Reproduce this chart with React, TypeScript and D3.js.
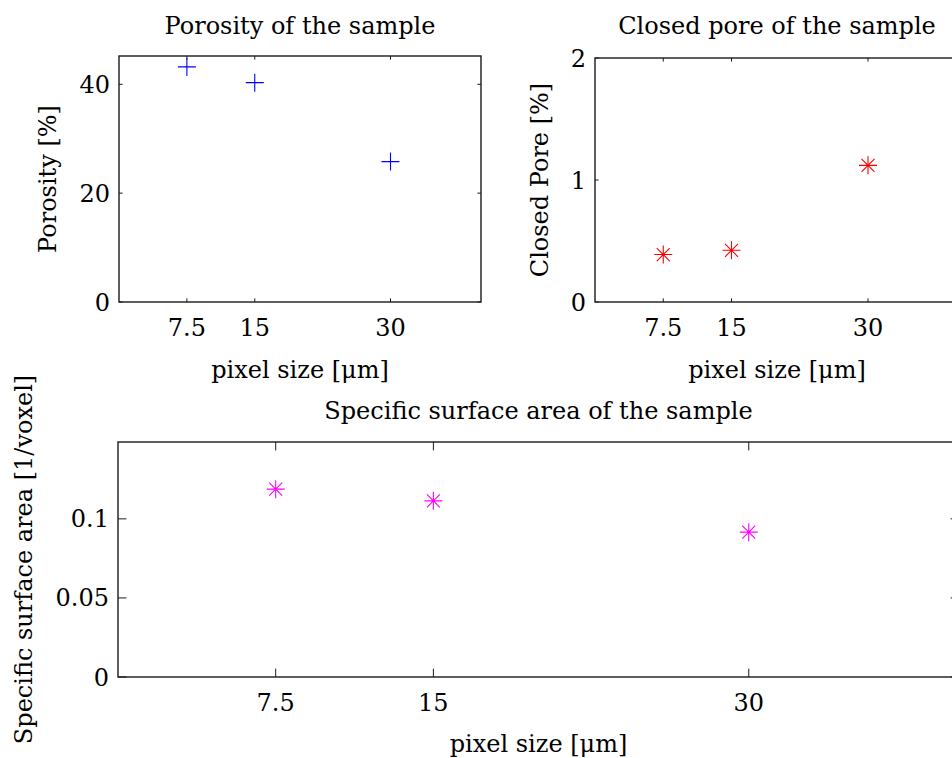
import React from "react";
import * as d3 from "d3";

// ---- data ----
const pixelSizes = [7.5, 15, 30];
const xTickValues = [7.5, 15, 30];
const xTickLabels = ["7.5", "15", "30"];

const porosity = [43.2, 40.3, 25.8];
const porosityTicks = [0, 20, 40];
const porosityMax = 45.2;

const closedPore = [0.389, 0.424, 1.12];
const closedPoreTicks = [0, 1, 2];
const closedPoreMax = 2;

const specificSurface = [0.1188, 0.1114, 0.0916];
const specificSurfaceTicks = [0, 0.05, 0.1];
const specificSurfaceTickLabels = ["0", "0.05", "0.1"];
const specificSurfaceMax = 0.1486;

const xDomainMax = 40;

const FONT = "'DejaVu Serif', 'Liberation Serif', serif";
const FS = 24;
const AXIS_COLOR = "#1a1a1a";

type MarkerKind = "plus" | "star";

interface PanelProps {
  x0: number;
  x1: number;
  y0: number;
  y1: number;
  yMax: number;
  yTicks: number[];
  yTickLabels: string[];
  values: number[];
  color: string;
  marker: MarkerKind;
  title: string;
  titleY: number;
  ylabel: string;
  ylabelX: number;
  xlabelY: number;
  tickLen: number;
}

function Marker({ cx, cy, kind, color }: { cx: number; cy: number; kind: MarkerKind; color: string }) {
  const r = 9;
  const d = 6.5;
  const parts = [
    `M${cx - r},${cy}L${cx + r},${cy}`,
    `M${cx},${cy - r}L${cx},${cy + r}`,
  ];
  if (kind === "star") {
    parts.push(`M${cx - d},${cy - d}L${cx + d},${cy + d}`);
    parts.push(`M${cx - d},${cy + d}L${cx + d},${cy - d}`);
  }
  return <path d={parts.join("")} stroke={color} strokeWidth={1.1} fill="none" />;
}

function Panel(p: PanelProps) {
  const xs = d3.scaleLinear().domain([0, xDomainMax]).range([p.x0, p.x1]);
  const ys = d3.scaleLinear().domain([0, p.yMax]).range([p.y1, p.y0]);
  const cxMid = (p.x0 + p.x1) / 2;
  const cyMid = (p.y0 + p.y1) / 2;
  return (
    <g>
      {xTickValues.map((v, i) => (
        <g key={"xt" + i}>
          <line x1={xs(v)} x2={xs(v)} y1={p.y1} y2={p.y1 - p.tickLen} stroke={AXIS_COLOR} strokeWidth={1} />
          <line x1={xs(v)} x2={xs(v)} y1={p.y0} y2={p.y0 + p.tickLen} stroke={AXIS_COLOR} strokeWidth={1} />
          <text x={xs(v)} y={p.y1 + 34} textAnchor="middle" fontFamily={FONT} fontSize={FS} fill="#000">
            {xTickLabels[i]}
          </text>
        </g>
      ))}
      {p.yTicks.map((v, i) => (
        <g key={"yt" + i}>
          <line x1={p.x0} x2={p.x0 + p.tickLen} y1={ys(v)} y2={ys(v)} stroke={AXIS_COLOR} strokeWidth={1} />
          <line x1={p.x1} x2={p.x1 - p.tickLen} y1={ys(v)} y2={ys(v)} stroke={AXIS_COLOR} strokeWidth={1} />
          <text x={p.x0 - 9} y={ys(v) + 8.5} textAnchor="end" fontFamily={FONT} fontSize={FS} fill="#000">
            {p.yTickLabels[i]}
          </text>
        </g>
      ))}
      <rect x={p.x0} y={p.y0} width={p.x1 - p.x0} height={p.y1 - p.y0} fill="none" stroke={AXIS_COLOR} strokeWidth={1.4} />
      {pixelSizes.map((v, i) => (
        <Marker key={"m" + i} cx={xs(v)} cy={ys(p.values[i])} kind={p.marker} color={p.color} />
      ))}
      <text x={cxMid} y={p.titleY} textAnchor="middle" fontFamily={FONT} fontSize={FS} fill="#000">
        {p.title}
      </text>
      <text x={cxMid} y={p.xlabelY} textAnchor="middle" fontFamily={FONT} fontSize={FS} fill="#000">
        pixel size [μm]
      </text>
      <text
        transform={`translate(${p.ylabelX},${cyMid}) rotate(-90)`}
        textAnchor="middle"
        fontFamily={FONT}
        fontSize={FS}
        fill="#000"
      >
        {p.ylabel}
      </text>
    </g>
  );
}

export default function App() {
  return (
    <svg
      width={952}
      height={758}
      viewBox="0 0 952 758"
      style={{ position: "absolute", left: 0, top: 0, display: "block", background: "#fff" }}
    >
      <rect x={0} y={0} width={952} height={758} fill="#fff" />
      <Panel
        x0={119}
        x1={481}
        y0={56}
        y1={302}
        yMax={porosityMax}
        yTicks={porosityTicks}
        yTickLabels={porosityTicks.map(String)}
        values={porosity}
        color="#0000ff"
        marker="plus"
        title="Porosity of the sample"
        titleY={34}
        ylabel="Porosity [%]"
        ylabelX={56}
        xlabelY={378}
        tickLen={3.6}
      />
      <Panel
        x0={595}
        x1={959}
        y0={58}
        y1={302}
        yMax={closedPoreMax}
        yTicks={closedPoreTicks}
        yTickLabels={closedPoreTicks.map(String)}
        values={closedPore}
        color="#ff0000"
        marker="star"
        title="Closed pore of the sample"
        titleY={34}
        ylabel="Closed Pore [%]"
        ylabelX={548}
        xlabelY={378}
        tickLen={3.6}
      />
      <Panel
        x0={118}
        x1={959}
        y0={442}
        y1={677}
        yMax={specificSurfaceMax}
        yTicks={specificSurfaceTicks}
        yTickLabels={specificSurfaceTickLabels}
        values={specificSurface}
        color="#ff00ff"
        marker="star"
        title="Specific surface area of the sample"
        titleY={419}
        ylabel="Specific surface area [1/voxel]"
        ylabelX={32}
        xlabelY={752}
        tickLen={8.4}
      />
    </svg>
  );
}
